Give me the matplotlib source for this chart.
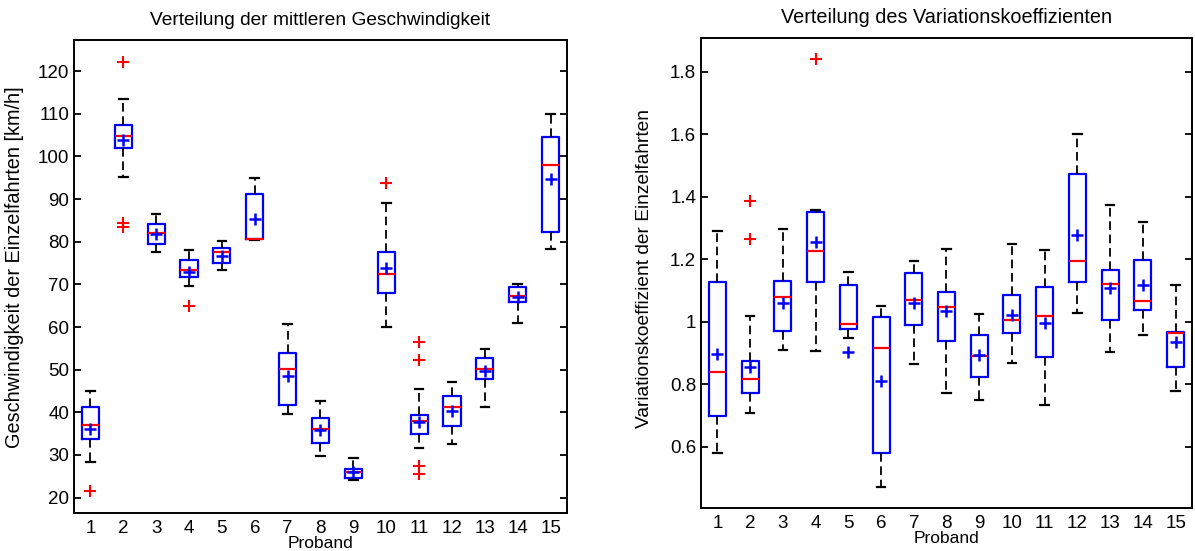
import numpy as np
import matplotlib
matplotlib.use('Agg')
import matplotlib.pyplot as plt
from matplotlib.ticker import FuncFormatter

plt.rcParams['font.family'] = ['Liberation Sans', 'DejaVu Sans']

# ── Data ────────────────────────────────────────────────────
probanden = list(range(1, 16))

# Left: mittlere Geschwindigkeit [km/h]
v_whislo = [28.3, 95.2, 77.7, 69.7, 73.3, 80.4, 39.6, 29.8, 24.1, 59.9, 31.6, 32.6, 41.3, 61.0, 78.2]
v_q1     = [33.7, 102.0, 79.5, 71.8, 75.1, 80.7, 41.7, 32.8, 24.5, 67.9, 34.9, 36.8, 47.7, 65.8, 82.2]
v_med    = [37.0, 104.8, 82.0, 73.4, 77.7, 80.7, 50.1, 36.1, 25.9, 72.5, 38.0, 41.3, 50.1, 67.3, 98.0]
v_q3     = [41.2, 107.3, 84.1, 75.7, 78.6, 91.3, 53.8, 38.7, 26.7, 77.5, 39.3, 43.8, 52.8, 69.5, 104.5]
v_whishi = [45.1, 113.5, 86.5, 78.0, 80.2, 95.0, 60.8, 42.7, 29.2, 89.1, 45.4, 47.0, 54.9, 70.1, 110.0]
v_mean   = [36.0, 103.8, 81.8, 72.9, 76.7, 85.4, 48.5, 35.9, 25.9, 73.9, 37.8, 40.4, 49.8, 67.0, 94.6]
v_fliers = [[21.6], [122.2, 84.5, 83.4], [], [64.9], [], [], [], [], [], [93.8],
            [56.4, 52.3, 27.5, 25.6], [], [], [], []]

# Right: Variationskoeffizient
c_whislo = [0.580, 0.706, 0.909, 0.906, 0.948, 0.471, 0.863, 0.770, 0.749, 0.866, 0.732, 1.026, 0.901, 0.957, 0.777]
c_q1     = [0.697, 0.770, 0.970, 1.126, 0.976, 0.580, 0.989, 0.939, 0.822, 0.964, 0.886, 1.126, 1.004, 1.038, 0.856]
c_med    = [0.839, 0.816, 1.080, 1.225, 0.993, 0.915, 1.070, 1.048, 0.890, 1.005, 1.018, 1.193, 1.121, 1.067, 0.965]
c_q3     = [1.128, 0.875, 1.131, 1.350, 1.116, 1.014, 1.157, 1.095, 0.957, 1.086, 1.112, 1.471, 1.166, 1.198, 0.967]
c_whishi = [1.289, 1.019, 1.298, 1.357, 1.160, 1.051, 1.194, 1.231, 1.025, 1.247, 1.230, 1.602, 1.372, 1.320, 1.118]
c_mean   = [0.895, 0.856, 1.061, 1.256, 0.901, 0.811, 1.061, 1.034, 0.893, 1.022, 0.997, 1.278, 1.107, 1.118, 0.936]
c_fliers = [[], [1.387, 1.264], [], [1.842], [], [], [], [], [], [], [], [], [], [], []]


def make_stats(lo, q1, med, q3, hi, mean, fliers):
    return [dict(whislo=lo[i], q1=q1[i], med=med[i], q3=q3[i], whishi=hi[i],
                 mean=mean[i], fliers=fliers[i], label=str(probanden[i]))
            for i in range(len(probanden))]


def draw(ax, stats):
    ax.bxp(stats, positions=probanden, widths=0.52, capwidths=0.26,
           showmeans=True, showfliers=True,
           boxprops=dict(color='blue', linewidth=1.6),
           medianprops=dict(color='red', linewidth=1.6),
           whiskerprops=dict(color='black', linewidth=1.3, linestyle=(0, (4.8, 2.6))),
           capprops=dict(color='black', linewidth=1.6),
           meanprops=dict(marker='+', markeredgecolor='blue', markersize=9, markeredgewidth=1.8),
           flierprops=dict(marker='+', markeredgecolor='red', markersize=8, markeredgewidth=1.5))
    ax.set_xlim(0.5, 15.5)
    ax.tick_params(axis='x', length=0, labelsize=13.5, pad=5)
    ax.tick_params(axis='y', direction='in', right=True, length=5, width=1.3, labelsize=13.5)
    for s in ax.spines.values():
        s.set_linewidth(1.4)
    ax.set_xlabel('Proband', fontsize=12.5, labelpad=-1)


fig = plt.figure(figsize=(11.95, 5.51), dpi=100)
ax1 = fig.add_axes([0.0619, 0.069, 0.4126, 0.8584])
ax2 = fig.add_axes([0.5866, 0.078, 0.4109, 0.853])

draw(ax1, make_stats(v_whislo, v_q1, v_med, v_q3, v_whishi, v_mean, v_fliers))
ax1.set_ylim(16.4, 127.3)
ax1.set_yticks(range(20, 121, 10))
ax1.set_ylabel('Geschwindigkeit der Einzelfahrten [km/h]', fontsize=14.3)
ax1.yaxis.set_label_coords(-0.102, 0.52)
ax1.set_title('Verteilung der mittleren Geschwindigkeit', fontsize=13.8, pad=11)

draw(ax2, make_stats(c_whislo, c_q1, c_med, c_q3, c_whishi, c_mean, c_fliers))
ax2.set_ylim(0.403, 1.908)
ax2.set_yticks([0.6, 0.8, 1.0, 1.2, 1.4, 1.6, 1.8])
ax2.yaxis.set_major_formatter(FuncFormatter(lambda v, p: f'{v:g}'))
ax2.set_ylabel('Variationskoeffizient der Einzelfahrten', fontsize=13.8)
ax2.yaxis.set_label_coords(-0.098, 0.51)
ax2.set_title('Verteilung des Variationskoeffizienten', fontsize=14.3, pad=11)

fig.savefig('out.png', dpi=100)
